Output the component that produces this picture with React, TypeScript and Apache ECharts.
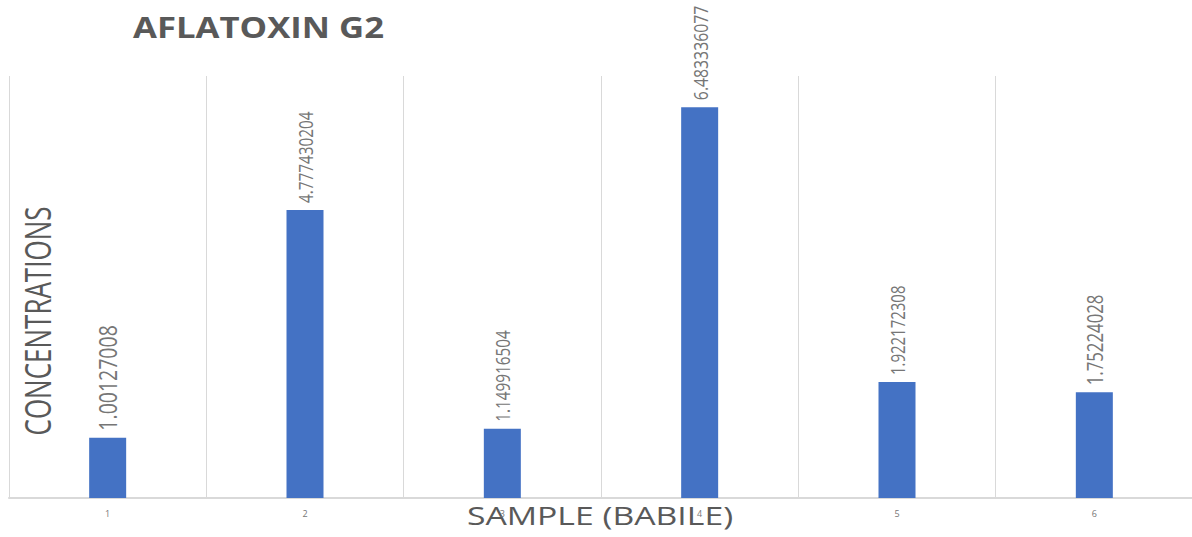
import React, { useEffect, useRef } from "react";
import * as echarts from "echarts";

const categories = ["1", "2", "3", "4", "5", "6"];
const concentrations = [1.00127008, 4.777430204, 1.149916504, 6.483336077, 1.922172308, 1.75224028];
const chartTitle = "AFLATOXIN G2";
const xTitle = "SAMPLE (BABILE)";
const yTitle = "CONCENTRATIONS";

// per-bar font size of the value labels
const labelSizes = [19.5, 15.3, 15.3, 15.8, 15, 16.8];

const font = "'Open Sans', sans-serif";
const textGray = "#595959";
const labelGray = "#767676";

export default function App() {
  const ref = useRef<HTMLDivElement>(null);

  useEffect(() => {
    if (!ref.current) return;
    const chart = echarts.init(ref.current, null, { renderer: "svg" });
    chart.setOption({
      animation: false,
      backgroundColor: "#ffffff",
      graphic: [
        {
          type: "text",
          x: 133,
          y: 27,
          scaleX: 1.24,
          style: {
            text: chartTitle,
            fontFamily: font,
            fontWeight: "bold",
            fontSize: 28,
            fill: textGray,
            align: "left",
            verticalAlign: "middle",
          },
        },
        {
          type: "text",
          x: 37,
          y: 321,
          rotation: Math.PI / 2,
          scaleY: 1.39,
          style: {
            text: yTitle,
            fontFamily: font,
            fontSize: 26,
            fill: textGray,
            align: "center",
            verticalAlign: "middle",
          },
        },
        {
          type: "text",
          x: 600,
          y: 515,
          scaleX: 1.35,
          style: {
            text: xTitle,
            fontFamily: font,
            fontSize: 25,
            fill: textGray,
            align: "center",
            verticalAlign: "middle",
          },
        },
      ],
      grid: {
        left: 9,
        right: -1,
        top: 76,
        bottom: 39,
        containLabel: false,
        outerBoundsMode: "none",
      },
      xAxis: {
        type: "category",
        data: categories,
        axisLine: { show: true, lineStyle: { color: "#d9d9d9", width: 2 } },
        axisTick: { show: false },
        axisLabel: { fontSize: 9, color: labelGray, margin: 11, fontFamily: font },
        splitLine: { show: true, lineStyle: { color: "#d9d9d9", width: 1 } },
      },
      yAxis: {
        type: "value",
        min: 0,
        max: 7,
        show: false,
        splitLine: { show: false },
      },
      series: [
        {
          type: "bar",
          data: concentrations,
          barWidth: 37,
          itemStyle: { color: "#4472C4" },
        },
        {
          // value labels, written upward above each bar
          type: "custom",
          data: concentrations.map((v, i) => [i, v]),
          z: 5,
          renderItem: (params: any, api: any) => {
            const pt = api.coord([api.value(0), api.value(1)]);
            return {
              type: "text",
              x: pt[0],
              y: pt[1] - 7,
              rotation: Math.PI / 2,
              scaleY: 1.3,
              style: {
                text: String(concentrations[params.dataIndex]),
                fontFamily: font,
                fontSize: labelSizes[params.dataIndex],
                fill: labelGray,
                align: "left",
                verticalAlign: "middle",
              },
            };
          },
        },
      ],
    });
    return () => chart.dispose();
  }, []);

  return (
    <div
      ref={ref}
      style={{ position: "fixed", left: 0, top: 0, width: 1192, height: 537 }}
    />
  );
}
